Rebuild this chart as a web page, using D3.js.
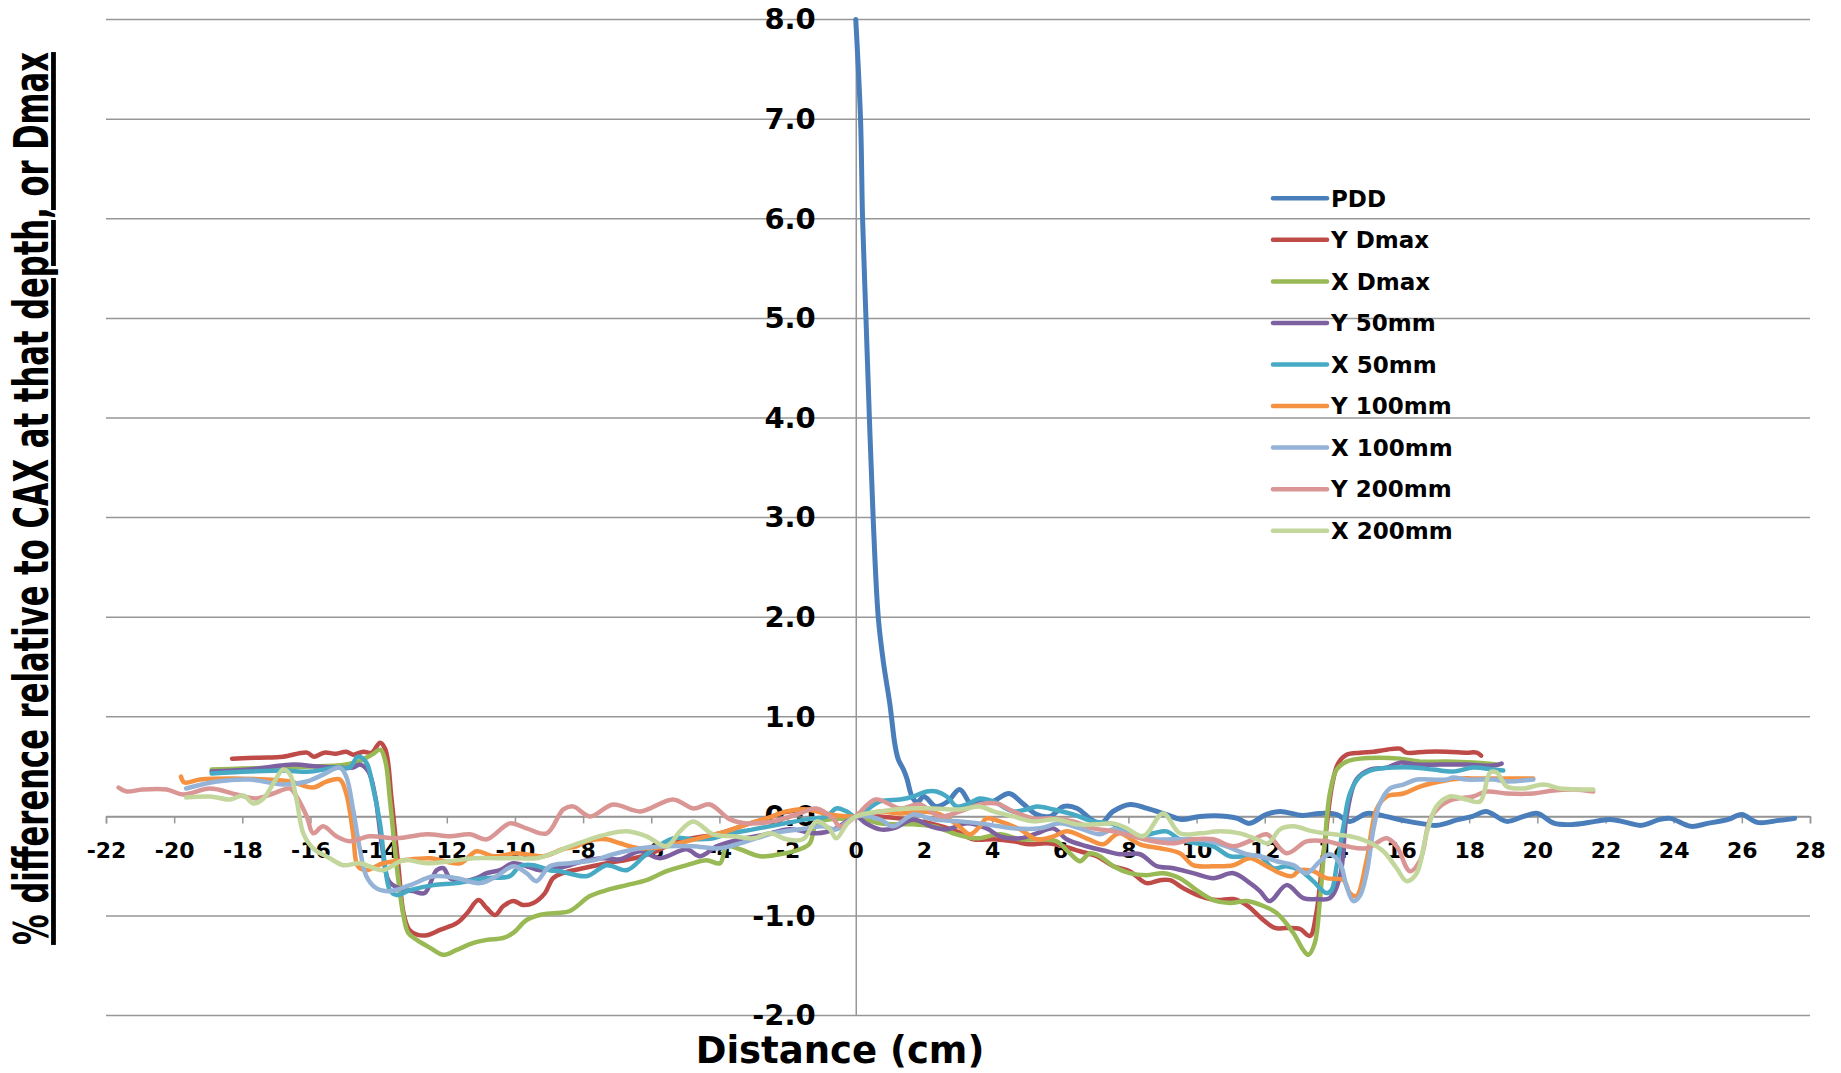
<!DOCTYPE html>
<html>
<head>
<meta charset="utf-8">
<script src="https://cdn.jsdelivr.net/npm/d3@7"></script>
<style>
  html, body { margin: 0; padding: 0; background: #fff; }
  svg { display: block; }
</style>
</head>
<body>
<svg width="1841" height="1073"></svg>
<script>
// series names + colours
const seriesNames = ['PDD', 'Y Dmax', 'X Dmax', 'Y 50mm', 'X 50mm', 'Y 100mm', 'X 100mm', 'Y 200mm', 'X 200mm']
const seriesColors = ['#4A7EBB', '#BE4B48', '#98B954', '#7D60A0', '#46AAC5', '#F59242', '#95B3D7', '#D99694', '#C3D69B']

const xTicks = d3.range(-22, 29, 2)
const yTicks = d3.range(-2, 9, 1)

// [distance cm, % difference]
const pdd = [[0,8.0],[0.14,7.0],[0.2,6.0],[0.3,5.0],[0.4,4.0],[0.51,3.0],[0.66,2.0],[0.81,1.55],[1.0,1.13],[1.15,0.72],[1.25,0.57],[1.4,0.47],[1.5,0.38],[1.65,0.2],[1.8,0.14],[2.0,0.2],[2.35,0.1],[2.7,0.15],[3.05,0.27],[3.4,0.12],[3.65,0.17],[4.0,0.15],[4.5,0.23],[4.9,0.13],[5.3,0.02],[5.7,0.0],[6.1,0.1],[6.5,0.08],[6.9,-0.03],[7.2,-0.07],[7.55,0.05],[8.05,0.12],[8.55,0.08],[9.1,0.02],[9.55,-0.03],[10.1,0.0],[10.9,0.0],[11.2,-0.02],[11.55,-0.07],[12.05,0.02],[12.45,0.05],[13.1,0.01],[13.6,0.03],[14.1,0.02],[14.5,-0.05],[15.0,0.03],[15.55,0.0],[16.05,-0.04],[16.75,-0.08],[17.05,-0.09],[17.7,-0.03],[18.1,0.0],[18.5,0.05],[19.1,-0.05],[19.6,0.0],[20.0,0.03],[20.5,-0.07],[21.1,-0.08],[21.7,-0.05],[22.15,-0.03],[22.6,-0.06],[23.05,-0.09],[23.6,-0.03],[23.9,-0.02],[24.5,-0.1],[25.0,-0.07],[25.6,-0.03],[26.0,0.02],[26.45,-0.06],[27.1,-0.04],[27.55,-0.02]]

const yDmax = [[-18.3,0.58],[-17.5,0.59],[-16.8,0.6],[-16.1,0.64],[-15.9,0.6],[-15.6,0.64],[-15.25,0.63],[-14.95,0.65],[-14.75,0.62],[-14.45,0.65],[-14.2,0.64],[-13.96,0.74],[-13.8,0.67],[-13.62,0.17],[-13.42,-0.5],[-13.27,-0.97],[-13.1,-1.14],[-12.85,-1.19],[-12.55,-1.19],[-12.2,-1.14],[-11.7,-1.07],[-11.4,-0.97],[-11.07,-0.84],[-10.83,-0.92],[-10.58,-0.99],[-10.34,-0.9],[-10.05,-0.85],[-9.76,-0.89],[-9.46,-0.87],[-9.12,-0.77],[-8.88,-0.62],[-8.6,-0.57],[-8.0,-0.52],[-7.3,-0.47],[-6.5,-0.42],[-6.0,-0.37],[-5.2,-0.25],[-4.0,-0.17],[-3.2,-0.08],[-2.6,-0.02],[-2.1,0.04],[-1.5,0.07],[-1.1,0.07],[-0.6,-0.02],[0,0],[0.7,0.0],[1.5,-0.03],[2.2,-0.07],[2.96,-0.15],[3.45,-0.23],[4.04,-0.23],[4.62,-0.25],[5.11,-0.28],[5.6,-0.27],[6.09,-0.3],[6.58,-0.35],[7.07,-0.4],[7.56,-0.5],[8.04,-0.55],[8.53,-0.67],[8.93,-0.64],[9.22,-0.64],[9.61,-0.72],[10.1,-0.8],[10.59,-0.84],[11.08,-0.83],[11.47,-0.89],[11.96,-1.04],[12.3,-1.12],[12.64,-1.12],[13.03,-1.13],[13.33,-1.2],[13.5,-1.0],[13.65,-0.6],[13.8,-0.15],[13.97,0.3],[14.15,0.53],[14.4,0.62],[14.8,0.64],[15.19,0.65],[15.58,0.67],[15.97,0.68],[16.16,0.64],[16.75,0.65],[17.34,0.65],[17.93,0.64],[18.22,0.64],[18.35,0.61]]

const xDmax = [[-18.9,0.47],[-18,0.48],[-17,0.49],[-16,0.5],[-15,0.52],[-14.6,0.55],[-14.2,0.62],[-13.95,0.67],[-13.8,0.55],[-13.67,0.17],[-13.47,-0.5],[-13.27,-1.0],[-13.13,-1.17],[-12.88,-1.24],[-12.49,-1.32],[-12.1,-1.39],[-11.71,-1.34],[-11.22,-1.27],[-10.83,-1.24],[-10.34,-1.22],[-10.05,-1.17],[-9.66,-1.04],[-9.27,-0.99],[-8.78,-0.97],[-8.39,-0.95],[-7.8,-0.8],[-7.31,-0.74],[-6.72,-0.69],[-6.14,-0.64],[-5.55,-0.55],[-4.96,-0.49],[-4.38,-0.44],[-3.98,-0.47],[-3.79,-0.3],[-3.4,-0.33],[-2.81,-0.4],[-2.23,-0.38],[-1.64,-0.33],[-1.35,-0.27],[-1.15,-0.07],[-0.76,-0.03],[-0.27,-0.02],[0,0],[0.71,-0.07],[1.69,-0.08],[2.3,-0.1],[2.96,-0.18],[3.55,-0.22],[4.23,-0.18],[4.82,-0.23],[5.4,-0.23],[5.89,-0.25],[6.28,-0.37],[6.58,-0.45],[6.87,-0.37],[7.16,-0.4],[7.56,-0.5],[8.04,-0.57],[8.53,-0.59],[9.02,-0.57],[9.51,-0.62],[10.0,-0.74],[10.49,-0.84],[10.98,-0.87],[11.47,-0.85],[11.96,-0.9],[12.35,-0.97],[12.84,-1.17],[13.13,-1.34],[13.28,-1.39],[13.47,-1.27],[13.62,-0.84],[13.77,-0.23],[13.91,0.23],[14.11,0.47],[14.4,0.55],[14.8,0.58],[15.38,0.59],[15.97,0.58],[16.56,0.55],[17.34,0.55],[18.12,0.54],[18.8,0.52]]

const y50 = [[-18.9,0.45],[-17.8,0.47],[-16.5,0.52],[-15.8,0.5],[-15.25,0.49],[-14.75,0.49],[-14.55,0.52],[-14.3,0.45],[-14.1,0.2],[-13.9,-0.3],[-13.7,-0.65],[-13.4,-0.72],[-12.98,-0.75],[-12.65,-0.77],[-12.3,-0.54],[-12.1,-0.52],[-11.91,-0.62],[-11.52,-0.65],[-11.13,-0.62],[-10.83,-0.57],[-10.44,-0.54],[-10.05,-0.47],[-9.66,-0.5],[-9.27,-0.54],[-8.78,-0.52],[-8.39,-0.49],[-8.0,-0.45],[-7.4,-0.42],[-6.92,-0.43],[-6.33,-0.35],[-5.75,-0.42],[-4.96,-0.33],[-4.57,-0.4],[-4.08,-0.3],[-3.4,-0.23],[-2.62,-0.18],[-1.94,-0.13],[-1.15,-0.17],[-0.57,-0.12],[0,0],[0.3,-0.07],[0.71,-0.13],[1.1,-0.12],[1.69,-0.03],[2.2,-0.1],[2.67,-0.13],[3.26,-0.07],[3.84,-0.12],[4.23,-0.2],[4.82,-0.22],[5.31,-0.17],[5.8,-0.12],[6.19,-0.23],[6.77,-0.3],[7.36,-0.35],[7.75,-0.38],[8.34,-0.38],[8.83,-0.5],[9.32,-0.52],[9.9,-0.57],[10.49,-0.62],[11.08,-0.57],[11.57,-0.67],[11.86,-0.75],[12.15,-0.85],[12.64,-0.69],[13.13,-0.82],[13.52,-0.83],[13.91,-0.82],[14.21,-0.6],[14.4,0],[14.69,0.37],[15.09,0.47],[15.58,0.49],[15.97,0.54],[16.46,0.52],[17.14,0.52],[17.92,0.52],[18.71,0.51],[18.95,0.53]]

const x50 = [[-18.9,0.43],[-17.77,0.45],[-16.8,0.46],[-16.0,0.45],[-15.24,0.49],[-14.85,0.49],[-14.61,0.6],[-14.36,0.54],[-14.17,0.3],[-13.96,-0.07],[-13.81,-0.5],[-13.67,-0.74],[-13.47,-0.79],[-13.08,-0.74],[-12.39,-0.69],[-11.71,-0.67],[-10.93,-0.62],[-10.15,-0.6],[-9.86,-0.5],[-9.46,-0.49],[-8.98,-0.54],[-8.68,-0.55],[-7.9,-0.6],[-7.31,-0.49],[-6.72,-0.54],[-6.14,-0.38],[-5.36,-0.22],[-4.77,-0.23],[-4.18,-0.22],[-3.79,-0.18],[-3.01,-0.13],[-2.23,-0.08],[-1.45,-0.03],[-0.86,0],[-0.57,0.08],[-0.27,0.05],[0,0],[0.71,0.15],[1.3,0.17],[1.69,0.2],[2.08,0.25],[2.37,0.25],[2.67,0.2],[2.96,0.1],[3.26,0.12],[3.64,0.18],[4.04,0.15],[4.62,0.05],[5.01,0.07],[5.31,0.1],[5.8,0.07],[6.38,0.02],[6.97,-0.05],[7.46,-0.07],[7.85,-0.12],[8.34,-0.2],[8.73,-0.17],[9.12,-0.15],[9.51,-0.23],[10.0,-0.27],[10.49,-0.3],[10.98,-0.4],[11.47,-0.4],[11.86,-0.4],[12.25,-0.52],[12.64,-0.5],[13.03,-0.54],[13.42,-0.65],[13.81,-0.77],[13.96,-0.74],[14.11,-0.5],[14.31,-0.1],[14.5,0.23],[14.79,0.4],[15.19,0.47],[15.77,0.49],[16.36,0.49],[16.95,0.47],[17.53,0.45],[18.12,0.49],[18.71,0.47],[19.0,0.46]]

const y100 = [[-19.8,0.4],[-19.7,0.34],[-19.24,0.37],[-18.26,0.38],[-17.28,0.37],[-16.6,0.35],[-15.92,0.29],[-15.53,0.35],[-15.14,0.37],[-14.95,0.23],[-14.75,-0.17],[-14.61,-0.5],[-14.36,-0.54],[-13.87,-0.47],[-13.28,-0.44],[-12.49,-0.42],[-11.61,-0.47],[-11.13,-0.35],[-10.64,-0.4],[-9.95,-0.37],[-9.17,-0.4],[-8.6,-0.33],[-8.2,-0.3],[-7.9,-0.25],[-7.31,-0.23],[-6.92,-0.27],[-6.33,-0.32],[-5.55,-0.3],[-4.96,-0.25],[-4.38,-0.2],[-3.79,-0.15],[-3.2,-0.08],[-2.62,-0.02],[-2.03,0.05],[-1.45,0.07],[-0.76,0.02],[0,0],[0.71,0.05],[1.3,0.03],[1.88,0.05],[2.47,0.02],[2.96,-0.08],[3.35,-0.18],[3.64,-0.1],[3.84,-0.02],[4.23,-0.05],[4.82,-0.13],[5.31,-0.23],[5.8,-0.2],[6.19,-0.15],[6.77,-0.22],[7.26,-0.28],[7.56,-0.2],[7.75,-0.17],[8.34,-0.28],[8.93,-0.32],[9.51,-0.37],[9.9,-0.49],[10.49,-0.5],[11.08,-0.49],[11.57,-0.42],[12.06,-0.5],[12.45,-0.57],[12.8,-0.6],[13.03,-0.54],[13.42,-0.55],[13.81,-0.62],[14.31,-0.64],[14.5,-0.77],[14.69,-0.8],[14.99,-0.44],[15.28,0.07],[15.58,0.2],[16.07,0.23],[16.56,0.3],[17.14,0.35],[17.73,0.38],[18.32,0.38],[19.1,0.38],[19.88,0.38]]

const x100 = [[-19.65,0.28],[-18.75,0.35],[-17.77,0.37],[-16.8,0.32],[-16.11,0.35],[-15.63,0.42],[-15.14,0.49],[-14.95,0.4],[-14.75,0.07],[-14.55,-0.33],[-14.36,-0.6],[-14.07,-0.72],[-13.67,-0.75],[-13.08,-0.69],[-12.39,-0.6],[-11.71,-0.62],[-11.03,-0.67],[-10.54,-0.6],[-10.05,-0.5],[-9.66,-0.57],[-9.37,-0.65],[-8.98,-0.5],[-8.39,-0.47],[-7.7,-0.44],[-7.12,-0.38],[-6.33,-0.32],[-5.55,-0.3],[-4.77,-0.3],[-4.0,-0.32],[-3.2,-0.25],[-2.43,-0.17],[-1.64,-0.13],[-0.96,-0.1],[-0.57,-0.13],[0,0],[0.71,-0.03],[1.1,-0.1],[1.69,0.02],[2.27,-0.03],[3.06,-0.05],[3.84,-0.08],[4.62,-0.12],[5.4,-0.12],[5.99,-0.07],[6.58,-0.12],[7.16,-0.18],[7.56,-0.13],[8.14,-0.2],[8.73,-0.23],[9.32,-0.23],[9.9,-0.23],[10.39,-0.25],[10.88,-0.3],[11.47,-0.38],[11.86,-0.4],[12.35,-0.45],[12.84,-0.49],[13.23,-0.57],[13.62,-0.45],[13.91,-0.38],[14.21,-0.47],[14.4,-0.7],[14.6,-0.85],[14.79,-0.8],[14.99,-0.57],[15.19,-0.13],[15.38,0.13],[15.67,0.28],[16.07,0.32],[16.46,0.37],[16.85,0.37],[17.34,0.37],[17.53,0.39],[17.92,0.37],[18.71,0.37],[19.1,0.35],[19.88,0.37]]

const y200 = [[-21.63,0.29],[-21.4,0.25],[-20.93,0.27],[-20.22,0.27],[-19.73,0.22],[-18.95,0.28],[-18.17,0.22],[-17.58,0.18],[-17.09,0.23],[-16.6,0.28],[-16.41,0.2],[-16.11,0],[-15.92,-0.17],[-15.63,-0.1],[-15.24,-0.2],[-14.85,-0.25],[-14.26,-0.2],[-13.47,-0.22],[-12.59,-0.18],[-11.91,-0.2],[-11.32,-0.18],[-10.83,-0.23],[-10.15,-0.07],[-9.66,-0.12],[-9.07,-0.17],[-8.58,0.07],[-8.29,0.1],[-7.8,0],[-7.12,0.12],[-6.33,0.05],[-5.36,0.17],[-4.77,0.08],[-4.28,0.12],[-3.69,-0.03],[-3.2,-0.07],[-2.43,-0.05],[-1.64,0.03],[-1.15,0.08],[-0.67,-0.02],[-0.47,-0.1],[0,0],[0.58,0.17],[1.3,0.08],[1.88,0.12],[2.47,0.0],[3.06,0.05],[3.64,0.12],[4.13,0.13],[4.62,0.05],[5.21,-0.02],[5.8,-0.02],[6.38,-0.05],[6.97,-0.12],[7.56,-0.15],[8.14,-0.2],[8.73,-0.25],[9.32,-0.27],[9.9,-0.23],[10.49,-0.23],[11.08,-0.3],[11.67,-0.23],[12.06,-0.18],[12.64,-0.37],[13.23,-0.25],[13.81,-0.25],[14.4,-0.3],[14.99,-0.32],[15.58,-0.22],[15.87,-0.3],[16.26,-0.55],[16.56,-0.44],[16.85,-0.03],[17.14,0.1],[17.53,0.17],[18.12,0.2],[18.51,0.25],[19.1,0.23],[19.88,0.23],[20.47,0.26],[21.05,0.27],[21.64,0.25]]

const x200 = [[-19.65,0.19],[-18.95,0.2],[-18.36,0.17],[-17.97,0.21],[-17.68,0.13],[-17.38,0.18],[-17.09,0.33],[-16.8,0.47],[-16.6,0.42],[-16.41,0.17],[-16.21,-0.17],[-15.92,-0.32],[-15.43,-0.42],[-15.04,-0.49],[-14.55,-0.47],[-13.87,-0.54],[-13.28,-0.44],[-12.59,-0.47],[-11.91,-0.45],[-11.22,-0.42],[-10.54,-0.42],[-9.95,-0.42],[-9.37,-0.42],[-8.88,-0.37],[-8.39,-0.3],[-7.8,-0.23],[-7.31,-0.18],[-6.72,-0.15],[-6.14,-0.2],[-5.55,-0.3],[-5.16,-0.15],[-4.77,-0.05],[-4.18,-0.18],[-3.59,-0.2],[-3.01,-0.22],[-2.52,-0.17],[-2.03,-0.23],[-1.55,-0.23],[-1.15,-0.05],[-0.76,-0.13],[-0.57,-0.22],[-0.27,-0.08],[0,0],[0.71,0.05],[1.49,0.08],[2.27,0.08],[3.06,0.07],[3.64,0.1],[4.04,0.05],[4.62,0],[5.21,-0.05],[5.89,-0.03],[6.48,-0.08],[7.07,-0.08],[7.56,-0.07],[7.95,-0.12],[8.44,-0.2],[9.02,0.03],[9.51,-0.17],[10.1,-0.17],[10.69,-0.15],[11.27,-0.17],[11.77,-0.23],[12.1,-0.27],[12.45,-0.13],[12.84,-0.1],[13.42,-0.15],[14.01,-0.18],[14.5,-0.2],[14.99,-0.25],[15.48,-0.35],[15.87,-0.52],[16.16,-0.65],[16.46,-0.57],[16.75,-0.17],[17.04,0.1],[17.43,0.2],[17.92,0.17],[18.32,0.15],[18.61,0.44],[18.81,0.44],[19.1,0.3],[19.59,0.28],[20.18,0.32],[20.67,0.28],[21.25,0.27],[21.64,0.27]]

const allSeries = [pdd, yDmax, xDmax, y50, x50, y100, x100, y200, x200]

const FONT = '"DejaVu Sans", Verdana, sans-serif'
const svg = d3.select('svg')

const x = d3.scaleLinear().domain([-22, 28]).range([106, 1810])
const y = d3.scaleLinear().domain([-2, 8]).range([1015.6, 19.6])

drawChart()

function drawChart() {
    // horizontal gridlines
    svg.append('g')
        .selectAll('line')
        .data(yTicks)
        .enter()
        .append('line')
        .attr('x1', x(-22))
        .attr('x2', x(28))
        .attr('y1', d => y(d))
        .attr('y2', d => y(d))
        .attr('stroke', '#979797')
        .attr('stroke-width', 1.5)

    // y axis sits on x = 0
    const yAxis = svg.append('g')
        .attr('transform', `translate(${x(0)},0)`)
        .call(d3.axisLeft(y).tickValues(yTicks).tickSize(0).tickPadding(40)
            .tickFormat(d => d.toFixed(1)))
    yAxis.select('.domain').attr('stroke', '#979797').attr('stroke-width', 1.5)
    yAxis.selectAll('text')
        .style('font-family', FONT)
        .style('font-weight', 'bold')
        .style('font-size', '29px')
        .attr('fill', '#000')

    // x axis sits on y = 0
    const xAxis = svg.append('g')
        .attr('transform', `translate(0,${y(0)})`)
        .call(d3.axisBottom(x).tickValues(xTicks).tickSizeInner(7).tickSizeOuter(7).tickPadding(19)
            .tickFormat(d => String(d)))
    xAxis.select('.domain').attr('stroke', '#979797').attr('stroke-width', 1.5)
    xAxis.selectAll('.tick line').attr('stroke', '#979797').attr('stroke-width', 1.5)
    xAxis.selectAll('text')
        .style('font-family', FONT)
        .style('font-weight', 'bold')
        .style('font-size', '22px')
        .attr('fill', '#000')

    // smoothed lines like the original spreadsheet chart
    const line = d3.line()
        .x(d => x(d[0]))
        .y(d => y(d[1]))
        .curve(d3.curveCatmullRom.alpha(0.5))

    svg.append('g')
        .selectAll('path')
        .data(allSeries)
        .enter()
        .append('path')
        .attr('d', line)
        .attr('fill', 'none')
        .attr('stroke', (d, i) => seriesColors[i])
        .attr('stroke-width', (d, i) => i === 0 ? 5 : 4.5)
        .attr('stroke-linejoin', 'round')
        .attr('stroke-linecap', 'round')

    // legend
    const legend = svg.append('g')
    const legendY = i => 198.3 + i * 41.55
    legend.selectAll('line')
        .data(seriesNames)
        .enter()
        .append('line')
        .attr('x1', 1273)
        .attr('x2', 1327)
        .attr('y1', (d, i) => legendY(i))
        .attr('y2', (d, i) => legendY(i))
        .attr('stroke', (d, i) => seriesColors[i])
        .attr('stroke-width', 4.5)
        .attr('stroke-linecap', 'round')
    legend.selectAll('text')
        .data(seriesNames)
        .enter()
        .append('text')
        .attr('x', 1331)
        .attr('y', (d, i) => legendY(i))
        .attr('dy', '0.36em')
        .style('font-family', FONT)
        .style('font-weight', 'bold')
        .style('font-size', '23px')
        .text(d => d)

    // axis titles
    svg.append('text')
        .attr('x', 840)
        .attr('y', 1063)
        .attr('text-anchor', 'middle')
        .style('font-family', FONT)
        .style('font-weight', 'bold')
        .style('font-size', '37px')
        .text('Distance (cm)')

    // y title: condensed to fit the plot height, underlined
    const yTitle = svg.append('text')
        .attr('text-anchor', 'middle')
        .style('font-family', FONT)
        .style('font-weight', 'bold')
        .style('font-size', '48px')
        .style('text-decoration', 'underline')
        .text('% difference relative to CAX at that depth, or Dmax')
    const squeeze = 893 / yTitle.node().getComputedTextLength()
    yTitle.attr('transform', `translate(47.5,498.5) rotate(-90) scale(${squeeze},1)`)
}
</script>
</body>
</html>
